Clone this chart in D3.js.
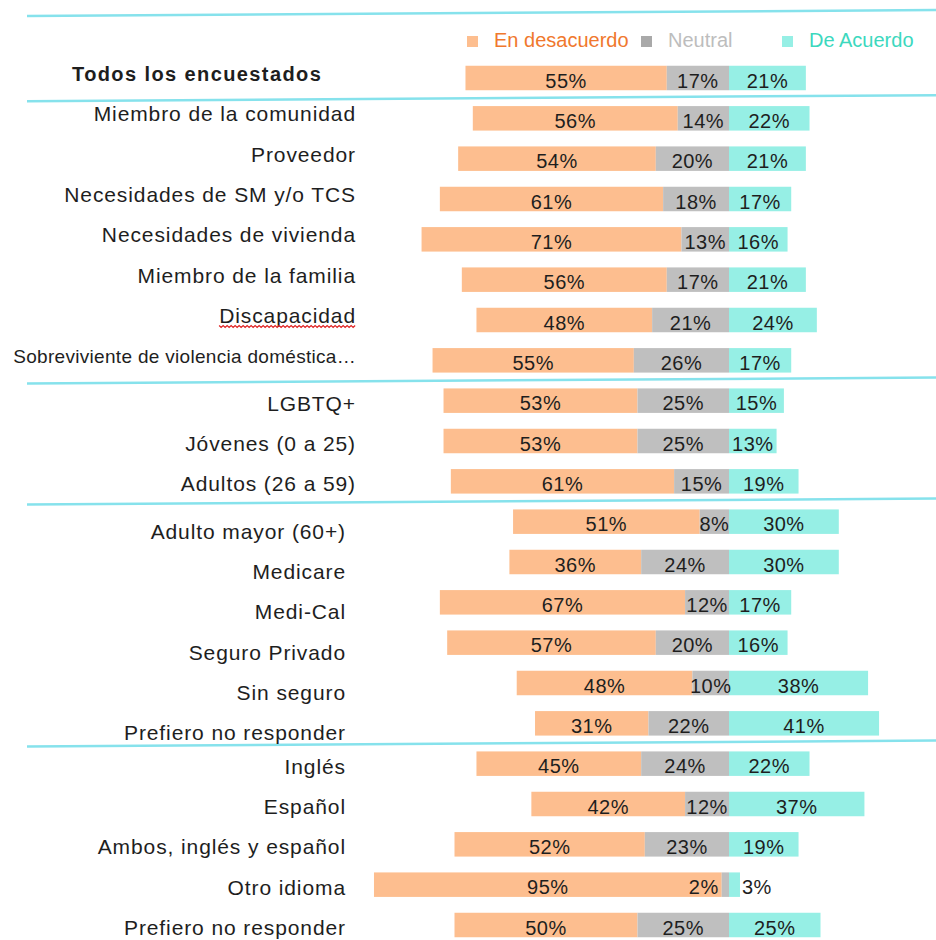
<!DOCTYPE html>
<meta charset="utf-8">
<style>
	body {
		margin: 0;
		padding: 0;
		background: #ffffff;
		font-family: 'Liberation Sans', Arial, sans-serif;
	}

	.sep {
		fill: none;
		stroke: #86e2ec;
		stroke-width: 2.5px;
	}

	.cat {
		fill: #1e1e1e;
		font-size: 21px;
		letter-spacing: 0.9px;
	}

	.val {
		fill: #1e1e1e;
		font-size: 20px;
		letter-spacing: 0.5px;
	}

	.legend text {
		font-size: 20px;
	}
</style>

<body>
	<svg class="chart"></svg>
</body>

<script src="https://cdnjs.cloudflare.com/ajax/libs/d3/7.8.5/d3.min.js"></script>

<script>

var categories = ["Todos los encuestados", "Miembro de la comunidad", "Proveedor",
	"Necesidades de SM y/o TCS", "Necesidades de vivienda", "Miembro de la familia",
	"Discapacidad", "Sobreviviente de violencia doméstica…", "LGBTQ+",
	"Jóvenes (0 a 25)", "Adultos (26 a 59)", "Adulto mayor (60+)", "Medicare",
	"Medi-Cal", "Seguro Privado", "Sin seguro", "Prefiero no responder",
	"Inglés", "Español", "Ambos, inglés y español", "Otro idioma", "Prefiero no responder"];

// which block (between the blue rules) each row belongs to
var section = [0, 1, 1, 1, 1, 1, 1, 1, 2, 2, 2, 3, 3, 3, 3, 3, 3, 4, 4, 4, 4, 4];

var desacuerdo = [55, 56, 54, 61, 71, 56, 48, 55, 53, 53, 61, 51, 36, 67, 57, 48, 31, 45, 42, 52, 95, 50];
var neutral    = [17, 14, 20, 18, 13, 17, 21, 26, 25, 25, 15, 8, 24, 12, 20, 10, 22, 24, 12, 23, 2, 25];
var deAcuerdo  = [21, 22, 21, 17, 16, 21, 24, 17, 15, 13, 19, 30, 30, 17, 16, 38, 41, 22, 37, 19, 3, 25];

var seriesNames = ["En desacuerdo", "Neutral", "De Acuerdo"];

var width = 936;
var height = 940;

var barColor = ["#fdbe8f", "#bfbfbf", "#96efe5"];
var legendText = ["#f0782d", "#bdbdbd", "#3cd8be"];
var legendBox = ["#fdbe8f", "#a9a9a9", "#96efe5"];

// label look per block
var labelEnd = [72, 356, 356, 346, 346];
var labelDy = [3, 3, 10, 17, 10];

var x = d3.scaleLinear()
	.domain([-100, 50])
	.range([363, 912]);

var y = d3.scalePoint()
	.domain(d3.range(categories.length))
	.range([78, 925]);

var barH = 24.5;

var svg = d3.select(".chart")
	.attr("width", width)
	.attr("height", height);

var rows = categories.map(function (c, i) {
	return {i: i, name: c, sec: section[i], v: [desacuerdo[i], neutral[i], deAcuerdo[i]]};
});

// separator rules (slightly tilted like the original slide)
var ruleY = [y(0) - 62];
for (var i = 1; i < rows.length; i++) {
	if (section[i] !== section[i - 1]) ruleY.push((y(i - 1) + y(i)) / 2 + 3);
}

svg.selectAll(".sep")
	.data(ruleY)
  .enter().append("line")
	.attr("class", "sep")
	.attr("x1", 27)
	.attr("x2", width)
	.attr("y1", function (d) { return d; })
	.attr("y2", function (d) { return d - 6; });

// legend
var legend = svg.append("g")
	.attr("class", "legend");

var legendX = [467, 641, 782];

seriesNames.forEach(function (s, k) {
	legend.append("rect")
		.attr("x", legendX[k])
		.attr("y", 36)
		.attr("width", 11)
		.attr("height", 11)
		.attr("fill", legendBox[k]);
	legend.append("text")
		.attr("x", legendX[k] + 27)
		.attr("y", 47)
		.attr("fill", legendText[k])
		.text(s);
});

// bars
var row = svg.selectAll(".row")
	.data(rows)
  .enter().append("g")
	.attr("class", "row");

function segs(d) {
	var a = d.v[0], b = d.v[1], c = d.v[2];
	return [
		{k: 0, v: a, x0: x(-(a + b)), x1: x(-b), y: y(d.i)},
		{k: 1, v: b, x0: x(-b), x1: x(0), y: y(d.i)},
		{k: 2, v: c, x0: x(0), x1: x(c), y: y(d.i)}
	];
}

row.selectAll("rect")
	.data(segs)
  .enter().append("rect")
	.attr("x", function (d) { return d.x0; })
	.attr("y", function (d) { return d.y - barH / 2; })
	.attr("width", function (d) { return d.x1 - d.x0; })
	.attr("height", barH)
	.attr("fill", function (d) { return barColor[d.k]; });

row.selectAll(".val")
	.data(segs)
  .enter().append("text")
	.attr("class", "val")
	.attr("y", function (d) { return d.y + 9.5; })
	.attr("x", function (d) {
		var w = d.x1 - d.x0;
		if (d.k === 1 && w < 12) return d.x0 - 3;
		if (d.k === 2 && w < 15) return d.x1 + 2;
		return (d.x0 + d.x1) / 2;
	})
	.attr("text-anchor", function (d) {
		var w = d.x1 - d.x0;
		if (d.k === 1 && w < 12) return "end";
		if (d.k === 2 && w < 15) return "start";
		return "middle";
	})
	.text(function (d) { return d.v + "%"; });

// category labels
svg.selectAll(".cat")
	.data(rows)
  .enter().append("text")
	.attr("class", "cat")
	.attr("x", function (d) { return labelEnd[d.sec]; })
	.attr("y", function (d) { return y(d.i) + labelDy[d.sec]; })
	.attr("text-anchor", function (d) { return d.sec === 0 ? "start" : "end"; })
	.style("font-weight", function (d) { return d.sec === 0 ? "bold" : null; })
	.style("font-size", function (d) {
		if (d.sec === 0) return "20px";
		if (d.name.length > 30) return "19px";
		return null;
	})
	.style("letter-spacing", function (d) {
		if (d.sec === 0) return "1.4px";
		if (d.name.length > 30) return "0.3px";
		return null;
	})
	.text(function (d) { return d.name; });

// red spell-check squiggle under "Discapacidad"
svg.selectAll(".cat")
	.filter(function (d) { return d.name === "Discapacidad"; })
	.each(function (d) {
		var b = this.getBBox();
		var base = y(d.i) + labelDy[d.sec] + 3;
		var pts = [];
		for (var px = b.x; px <= b.x + b.width; px += 2) {
			pts.push([px, base + ((Math.round((px - b.x) / 2) % 2) ? 1.5 : -0.5)]);
		}
		svg.append("path")
			.attr("d", d3.line()(pts))
			.attr("fill", "none")
			.attr("stroke", "#e02424")
			.attr("stroke-width", 1.2);
	});

</script>
